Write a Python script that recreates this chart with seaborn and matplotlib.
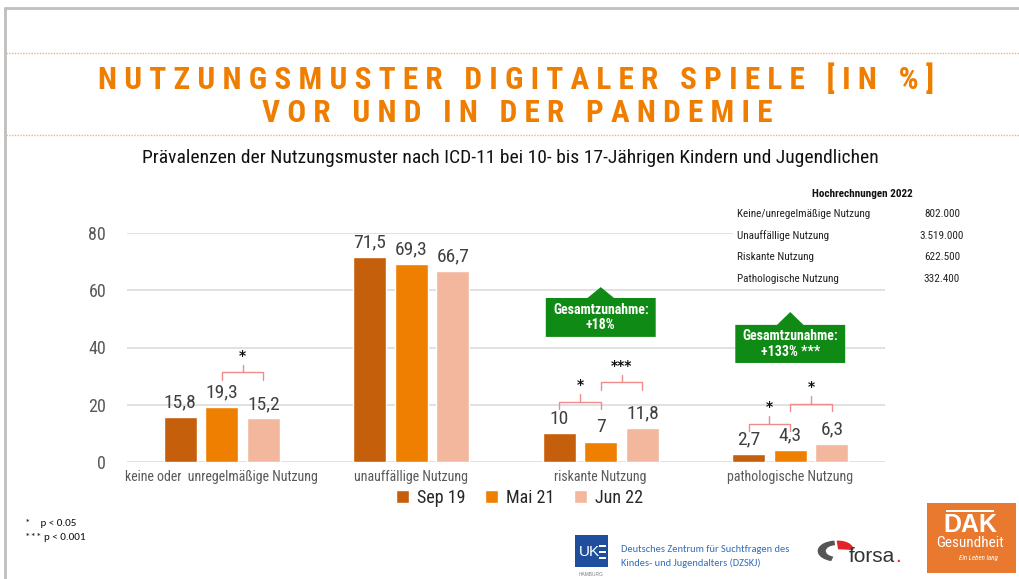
import numpy as np
import pandas as pd
import seaborn as sns
import matplotlib
matplotlib.use("Agg")
import matplotlib.pyplot as plt
from matplotlib.patches import Rectangle, Polygon, Wedge
from matplotlib.lines import Line2D

# ---------------------------------------------------------------- data
categories = ["keine oder  unregelmäßige Nutzung", "unauffällige Nutzung",
              "riskante Nutzung", "pathologische Nutzung"]
periods = ["Sep 19", "Mai 21", "Jun 22"]
sep19 = [15.8, 71.5, 10, 2.7]
mai21 = [19.3, 69.3, 7, 4.3]
jun22 = [15.2, 66.7, 11.8, 6.3]
y_ticks = [0, 20, 40, 60, 80]

projection_title = "Hochrechnungen 2022"
projection_labels = ["Keine/unregelmäßige Nutzung", "Unauffällige Nutzung",
                     "Riskante Nutzung", "Pathologische Nutzung"]
projection_values = ["802.000", "3.519.000", "622.500", "332.400"]

# significance brackets: (category index, from period, to period, level, label)
significance = [(0, 1, 2, 31.4, "*"),
                (2, 0, 1, 21.0, "*"),
                (2, 1, 2, 27.9, "***"),
                (3, 0, 1, 13.3, "*"),
                (3, 1, 2, 20.3, "*")]

# overall-increase callouts: (category index, box bottom, box top, tip, text)
callouts = [(2, 43.7, 57.3, 61.1, "Gesamtzunahme:\n+18%"),
            (3, 34.6, 47.9, 52.4, "Gesamtzunahme:\n+133% ***")]

df = pd.DataFrame({
    "Kategorie": categories * 3,
    "Zeitraum": [p for p in periods for _ in categories],
    "Anteil": sep19 + mai21 + jun22,
})

# ---------------------------------------------------------------- style
sns.set_theme(style="white")
COND = ["Roboto Condensed", "DejaVu Sans"]
CAL = ["Carlito", "DejaVu Sans"]
plt.rcParams["font.family"] = COND

palette = {"Sep 19": "#C55F0B", "Mai 21": "#EE7F00", "Jun 22": "#F3B79E"}
grey_text = "#595959"
W, H = 1019, 579

fig = plt.figure(figsize=(W / 100, H / 100), dpi=100)
fig.patch.set_facecolor("white")


def fx(x):
    return x / W


def fy(y):
    return 1 - y / H


ax = fig.add_axes([fx(127), fy(462), fx(885) - fx(127), fy(233) - fy(462)])

sns.barplot(data=df, x="Kategorie", y="Anteil", hue="Zeitraum",
            palette=palette, order=categories, hue_order=periods,
            width=0.66, gap=0.21, saturation=1, errorbar=None,
            legend=False, ax=ax)

ax.set_xlim(-0.5, 3.5)
ax.set_ylim(0, 80)
ax.set_yticks(y_ticks)
ax.set_xlabel("")
ax.set_ylabel("")
for s in ax.spines.values():
    s.set_visible(False)
ax.yaxis.grid(True, color="#D9D9D9", lw=1.1)
ax.set_axisbelow(True)
ax.tick_params(axis="y", length=0, pad=15, labelsize=13, labelcolor=grey_text)
ax.tick_params(axis="x", length=0, pad=6, labelsize=10, labelcolor=grey_text)

# value labels on top of each bar
for cont in ax.containers:
    labels = [f"{v:g}".replace(".", ",") for v in cont.datavalues]
    ax.bar_label(cont, labels=labels, padding=4, fontsize=14, color="#404040")

# significance brackets between bars
bar_centers = [[b.get_x() + b.get_width() / 2 for b in cont] for cont in ax.containers]
for cat, a, b, lvl, lab in significance:
    x0 = bar_centers[a][cat]
    x1 = bar_centers[b][cat]
    xm = (x0 + x1) / 2
    ax.plot([x0, x0, x1, x1], [lvl - 2.6, lvl, lvl, lvl - 2.6],
            color="#EE8C8C", lw=1.0, clip_on=False, zorder=4)
    ax.plot([xm, xm], [lvl, lvl + 2.6], color="#EE8C8C", lw=1.0,
            clip_on=False, zorder=4)
    ax.text(xm, lvl + 5.8, lab, ha="center", va="center", fontsize=10,
            fontweight="bold", color="#111111", zorder=5, family=["DejaVu Sans"])

# green callouts
for cat, y0, y1, tip, txt in callouts:
    hw, tw = 0.29, 0.07
    pts = [(cat - hw, y0), (cat + hw, y0), (cat + hw, y1), (cat + tw, y1),
           (cat, tip), (cat - tw, y1), (cat - hw, y1)]
    ax.add_patch(Polygon(pts, closed=True, facecolor="#0F8A14",
                         edgecolor="none", zorder=6, clip_on=False))
    ax.text(cat, (y0 + y1) / 2, txt, ha="center", va="center",
            color="white", fontsize=10, fontweight="bold", family=COND,
            linespacing=1.15, zorder=7)

# legend
handles = [Rectangle((0, 0), 1, 1, facecolor=palette[p]) for p in periods]
ax.legend(handles, periods, loc="center", bbox_to_anchor=(0.518, -0.157),
          ncol=3, frameon=False, fontsize=13, handlelength=0.7,
          handleheight=0.7, handletextpad=0.45, columnspacing=1.1,
          labelcolor="#262626")

# ---------------------------------------------------------------- page frame
fig.add_artist(Line2D([fx(5), 1], [fy(8), fy(8)], color="#BFBFBF", lw=2))
fig.add_artist(Line2D([fx(5), fx(5)], [fy(8), 0], color="#BFBFBF", lw=2))
for yy in (53, 135):
    fig.add_artist(Line2D([fx(6), 1], [fy(yy), fy(yy)], color="#F3B27A",
                          lw=1.0, ls=(0, (1, 1))))


def spaced(s):
    return " ".join(list(s))


fig.text(fx(516), fy(79), spaced("NUTZUNGSMUSTER DIGITALER SPIELE [IN %]"),
         ha="center", va="center", fontsize=22.5, fontweight="bold",
         color="#EF7D00", family=COND)
fig.text(fx(517), fy(113), spaced("VOR UND IN DER PANDEMIE"),
         ha="center", va="center", fontsize=22.5, fontweight="bold",
         color="#EF7D00", family=COND)
fig.text(fx(510), fy(158),
         "Prävalenzen der Nutzungsmuster nach ICD-11 bei 10- bis 17-Jährigen Kindern und Jugendlichen",
         ha="center", va="center", fontsize=14, color="#111111")

# projection table (covers the top grid line)
fig.add_artist(Rectangle((fx(733), fy(288)), fx(1010) - fx(733), fy(184) - fy(288),
                         transform=fig.transFigure, facecolor="white",
                         edgecolor="none", zorder=3))
fig.text(fx(862), fy(194), projection_title, ha="center", va="center",
         fontsize=8, fontweight="bold", color="#111111", zorder=4)
for i, (lab, val) in enumerate(zip(projection_labels, projection_values)):
    yy = 214 + i * 21.7
    fig.text(fx(737), fy(yy), lab, ha="left", va="center", fontsize=8,
             color="#222222", zorder=4)
    fig.text(fx(942), fy(yy), val, ha="center", va="center", fontsize=8,
             color="#222222", zorder=4)

# footnotes
fig.text(fx(25), fy(524), "*    p < 0.05", ha="left", va="center",
         fontsize=8, color="#111111", family=CAL)
fig.text(fx(25), fy(538), "*** p < 0.001", ha="left", va="center",
         fontsize=8, color="#111111", family=CAL)

# UKE block
fig.add_artist(Rectangle((fx(575), fy(567)), fx(608) - fx(575), fy(535) - fy(567),
                         transform=fig.transFigure, facecolor="#1F4F9C",
                         edgecolor="none"))
fig.text(fx(589), fy(552), "UK", ha="center", va="center", fontsize=11,
         color="white", family=["Liberation Sans", "DejaVu Sans"])
for yy in (545, 551, 557):
    fig.add_artist(Rectangle((fx(599), fy(yy + 2)), fx(606) - fx(599), fy(yy) - fy(yy + 2),
                             transform=fig.transFigure, facecolor="white",
                             edgecolor="none", zorder=2))
fig.text(fx(591), fy(574), "HAMBURG", ha="center", va="center", fontsize=3.5,
         color="#7F7F7F", family=["Liberation Sans", "DejaVu Sans"])
fig.text(fx(621), fy(549), "Deutsches Zentrum für Suchtfragen des",
         ha="left", va="center", fontsize=7.5, color="#2F6EBA", family=CAL)
fig.text(fx(621), fy(563), "Kindes- und Jugendalters (DZSKJ)",
         ha="left", va="center", fontsize=7.5, color="#2F6EBA", family=CAL)

# forsa block
cx, cy = fx(836), fy(551)
fig.add_artist(Wedge((cx, cy), 0.018, 95, 255, width=0.008,
                     transform=fig.transFigure, facecolor="#555555",
                     edgecolor="none"))
fig.add_artist(Wedge((cx + 0.002, cy + 0.003), 0.015, -5, 95,
                     transform=fig.transFigure, facecolor="#E3222B",
                     edgecolor="none"))
forsa = fig.text(fx(849), fy(557), "forsa", ha="left", va="center",
                 fontsize=15, color="#333333",
                 family=["Liberation Sans", "DejaVu Sans"])
ax.annotate(".", xy=(1, 0), xycoords=forsa, ha="left", va="bottom",
            fontsize=15, color="#E3222B", annotation_clip=False,
            family=["Liberation Sans", "DejaVu Sans"])

# DAK block
fig.add_artist(Rectangle((fx(927), fy(573)), fx(1016) - fx(927), fy(503) - fy(573),
                         transform=fig.transFigure, facecolor="#E8792E",
                         edgecolor="none"))
fig.add_artist(Rectangle((fx(946), fy(512)), fx(994) - fx(946), fy(510) - fy(512),
                         transform=fig.transFigure, facecolor="white",
                         edgecolor="none", zorder=2))
fig.text(fx(970), fy(525), "DAK", ha="center", va="center", fontsize=18,
         fontweight="bold", color="white",
         family=["Liberation Sans", "DejaVu Sans"])
fig.text(fx(970), fy(543), "Gesundheit", ha="center", va="center",
         fontsize=11, color="white")
fig.text(fx(978), fy(558), "Ein Leben lang", ha="center", va="center",
         fontsize=5, style="italic", color="white")

fig.savefig("out.png", dpi=100, facecolor="white")
